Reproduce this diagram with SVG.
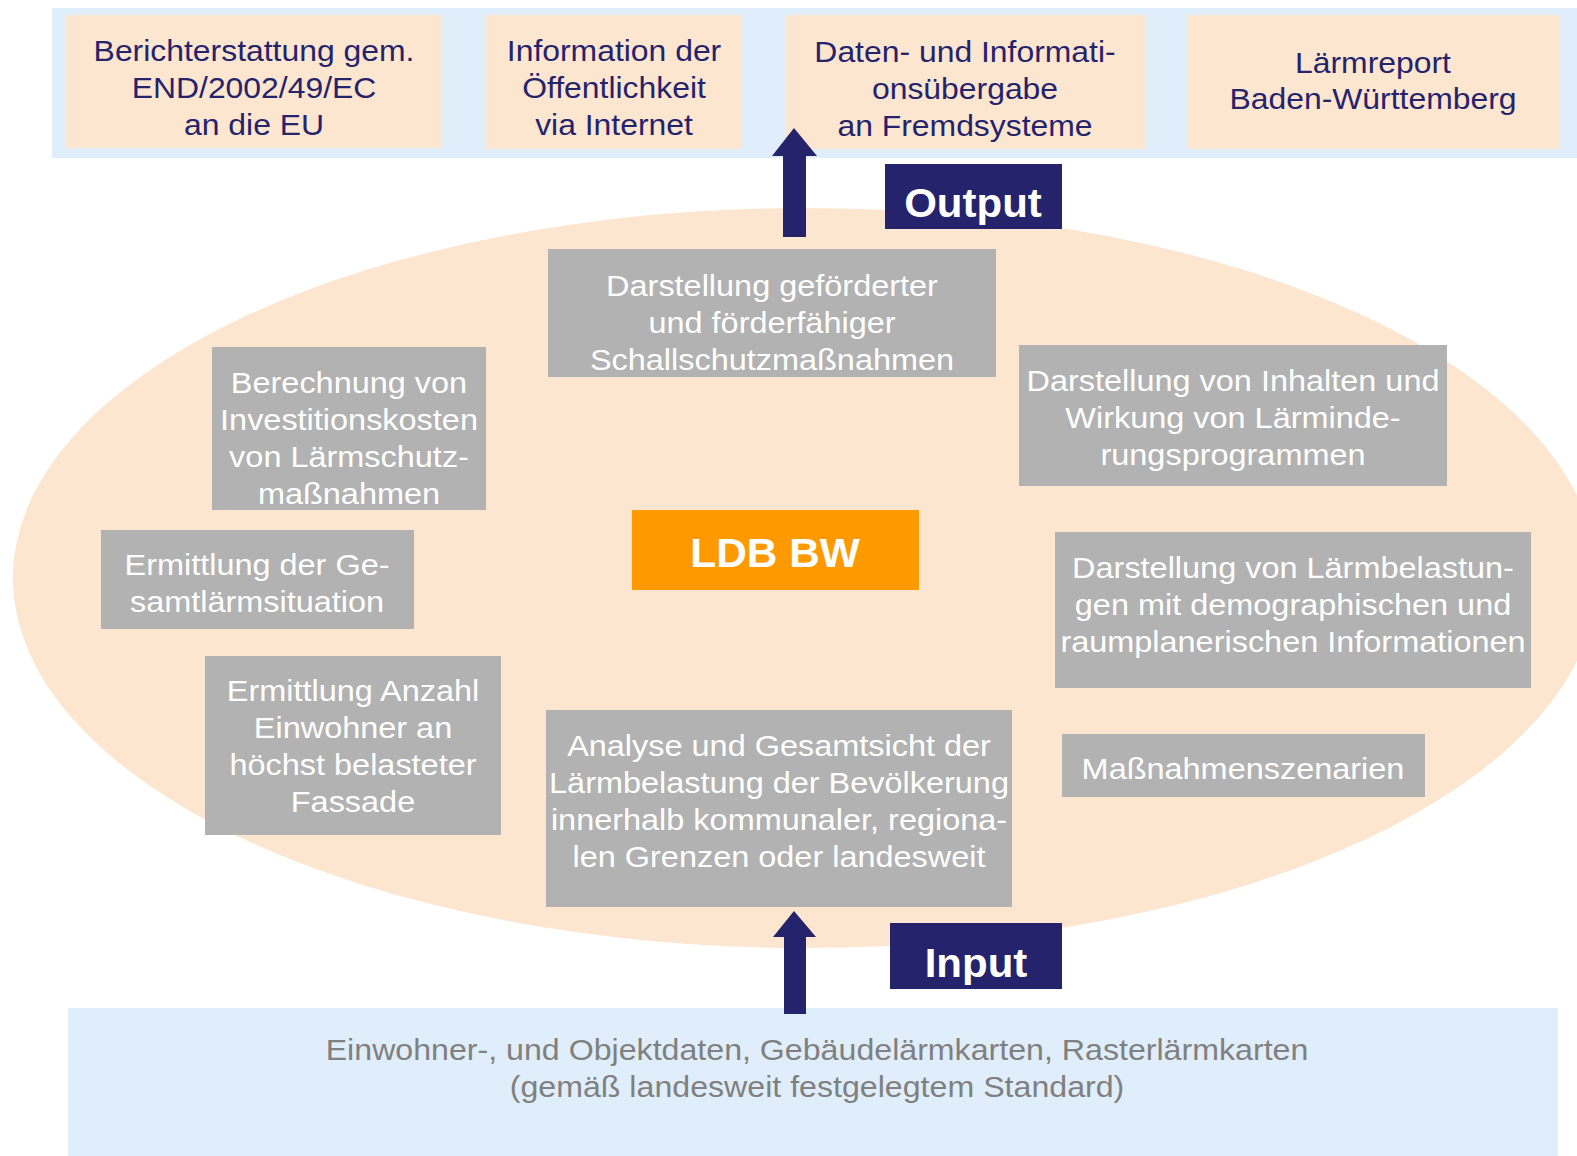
<svg xmlns="http://www.w3.org/2000/svg" width="1577" height="1156" viewBox="0 0 1577 1156">
  <style>
    text { font-family: "Liberation Sans", Arial, sans-serif; text-anchor: middle; }
    .band { fill: #e0eefc; }
    .out { fill: #fde6d0; }
    .outt { fill: #24236b; font-size: 29px; }
    .func { fill: #b2b2b2; }
    .funct { fill: #ffffff; font-size: 29.5px; }
    .tag { fill: #24236b; }
    .tagt { fill: #ffffff; font-size: 40px; font-weight: bold; }
    .arrow { fill: #24236b; }
  </style>

  <!-- output band -->
  <rect class="band" x="52" y="8" width="1525" height="150"/>
  <g id="out-end">
    <rect class="out" x="66" y="15" width="376" height="133"/>
    <g transform="translate(254,0) scale(1.1,1)">
      <text class="outt" x="0" y="61">Berichterstattung gem.</text>
      <text class="outt" x="0" y="98">END/2002/49/EC</text>
      <text class="outt" x="0" y="135">an die EU</text>
    </g>
  </g>
  <g id="out-internet">
    <rect class="out" x="486" y="15" width="256" height="134"/>
    <g transform="translate(614,0) scale(1.1,1)">
      <text class="outt" x="0" y="61">Information der</text>
      <text class="outt" x="0" y="98">Öffentlichkeit</text>
      <text class="outt" x="0" y="135">via Internet</text>
    </g>
  </g>
  <g id="out-fremd">
    <rect class="out" x="786" y="15" width="359" height="134"/>
    <g transform="translate(965,0) scale(1.1,1)">
      <text class="outt" x="0" y="62">Daten- und Informati-</text>
      <text class="outt" x="0" y="99">onsübergabe</text>
      <text class="outt" x="0" y="136">an Fremdsysteme</text>
    </g>
  </g>
  <g id="out-report">
    <rect class="out" x="1187" y="15" width="372" height="134"/>
    <g transform="translate(1373,0) scale(1.1,1)">
      <text class="outt" x="0" y="73">Lärmreport</text>
      <text class="outt" x="0" y="109">Baden-Württemberg</text>
    </g>
  </g>

  <!-- core system ellipse -->
  <ellipse cx="805" cy="578" rx="792" ry="370" fill="#fde6d0"/>

  <!-- input band -->
  <rect class="band" x="68" y="1008" width="1490" height="148"/>
  <g id="input-data" transform="translate(817,0) scale(1.09,1)">
    <text x="0" y="1060" fill="#808080" font-size="29.5">Einwohner-, und Objektdaten, Gebäudelärmkarten, Rasterlärmkarten</text>
    <text x="0" y="1097" fill="#808080" font-size="29.5">(gemäß landesweit festgelegtem Standard)</text>
  </g>

  <g id="ldb">
    <rect x="632" y="510" width="287" height="80" fill="#ff9900"/>
    <text class="tagt" x="0" y="567" transform="translate(775,0) scale(1.06,1)">LDB BW</text>
  </g>

  <g id="f-foerder">
    <rect class="func" x="548" y="249" width="448" height="128"/>
    <g transform="translate(772,0) scale(1.1,1)">
      <text class="funct" x="0" y="296">Darstellung geförderter</text>
      <text class="funct" x="0" y="333">und förderfähiger</text>
      <text class="funct" x="0" y="370">Schallschutzmaßnahmen</text>
    </g>
  </g>
  <g id="f-invest">
    <rect class="func" x="212" y="347" width="274" height="163"/>
    <g transform="translate(349,0) scale(1.1,1)">
      <text class="funct" x="0" y="393">Berechnung von</text>
      <text class="funct" x="0" y="430">Investitionskosten</text>
      <text class="funct" x="0" y="467">von Lärmschutz-</text>
      <text class="funct" x="0" y="504">maßnahmen</text>
    </g>
  </g>
  <g id="f-programme">
    <rect class="func" x="1019" y="345" width="428" height="141"/>
    <g transform="translate(1233,0) scale(1.1,1)">
      <text class="funct" x="0" y="391">Darstellung von Inhalten und</text>
      <text class="funct" x="0" y="428">Wirkung von Lärminde-</text>
      <text class="funct" x="0" y="465">rungsprogrammen</text>
    </g>
  </g>
  <g id="f-gesamt">
    <rect class="func" x="101" y="530" width="313" height="99"/>
    <g transform="translate(257,0) scale(1.1,1)">
      <text class="funct" x="0" y="575">Ermittlung der Ge-</text>
      <text class="funct" x="0" y="612">samtlärmsituation</text>
    </g>
  </g>
  <g id="f-demo">
    <rect class="func" x="1055" y="532" width="476" height="156"/>
    <g transform="translate(1293,0) scale(1.1,1)">
      <text class="funct" x="0" y="578">Darstellung von Lärmbelastun-</text>
      <text class="funct" x="0" y="615">gen mit demographischen und</text>
      <text class="funct" x="0" y="652">raumplanerischen Informationen</text>
    </g>
  </g>
  <g id="f-fassade">
    <rect class="func" x="205" y="656" width="296" height="179"/>
    <g transform="translate(353,0) scale(1.1,1)">
      <text class="funct" x="0" y="701">Ermittlung Anzahl</text>
      <text class="funct" x="0" y="738">Einwohner an</text>
      <text class="funct" x="0" y="775">höchst belasteter</text>
      <text class="funct" x="0" y="812">Fassade</text>
    </g>
  </g>
  <g id="f-analyse">
    <rect class="func" x="546" y="710" width="466" height="197"/>
    <g transform="translate(779,0) scale(1.1,1)">
      <text class="funct" x="0" y="756">Analyse und Gesamtsicht der</text>
      <text class="funct" x="0" y="793">Lärmbelastung der Bevölkerung</text>
      <text class="funct" x="0" y="830">innerhalb kommunaler, regiona-</text>
      <text class="funct" x="0" y="867">len Grenzen oder landesweit</text>
    </g>
  </g>
  <g id="f-szenarien">
    <rect class="func" x="1062" y="734" width="363" height="63"/>
    <text class="funct" x="0" y="779" transform="translate(1243,0) scale(1.1,1)">Maßnahmenszenarien</text>
  </g>

  <g id="tag-output">
    <rect class="tag" x="885" y="164" width="177" height="65"/>
    <text class="tagt" x="0" y="217" transform="translate(973,0) scale(1.05,1)">Output</text>
  </g>
  <g id="tag-input">
    <rect class="tag" x="890" y="923" width="172" height="66"/>
    <text class="tagt" x="0" y="977" transform="translate(976,0) scale(1.05,1)">Input</text>
  </g>

  <!-- connectors -->
  <g id="connectors">
    <polygon class="arrow" points="794,128 817,156 806,156 806,237 783,237 783,156 772,156"/>
    <polygon class="arrow" points="794,911 816,937 806,937 806,1014 784,1014 784,937 773,937"/>
  </g>
</svg>
